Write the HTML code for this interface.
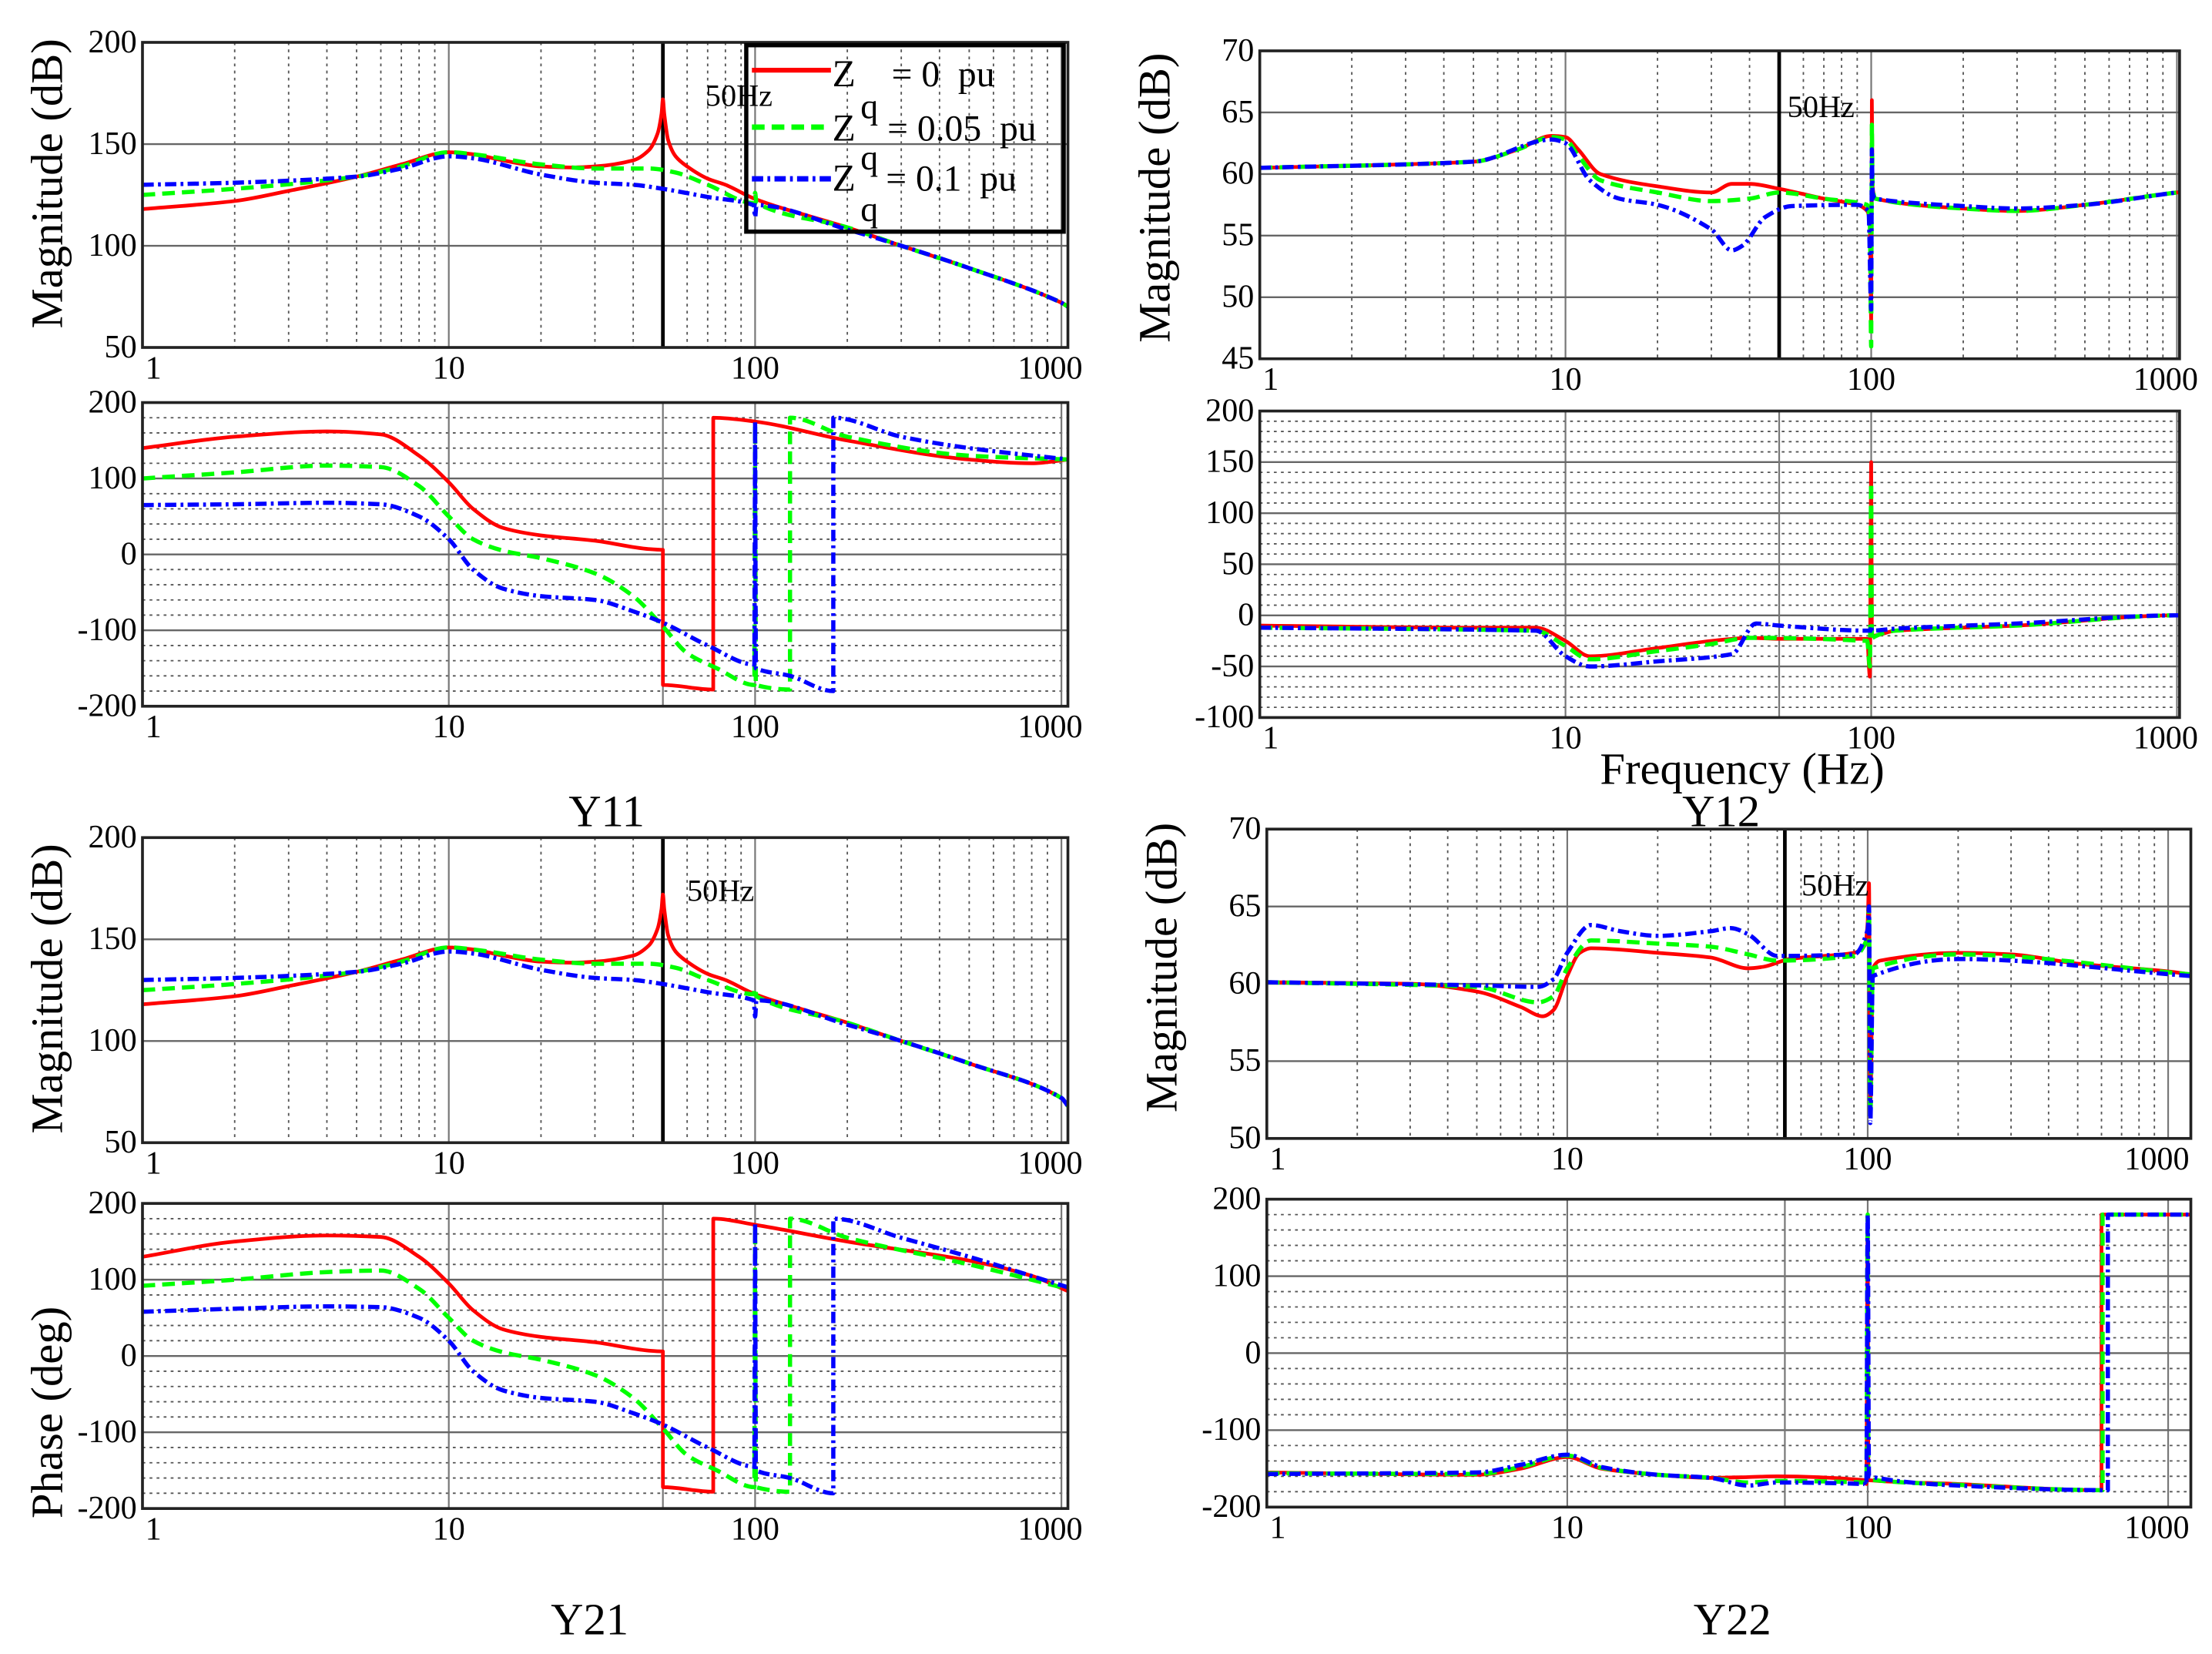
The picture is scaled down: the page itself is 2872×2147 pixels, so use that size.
<!DOCTYPE html>
<html><head><meta charset="utf-8"><style>
html,body{margin:0;padding:0;background:#fff;}
svg{display:block;}
text{font-family:"Liberation Serif",serif;fill:#000;}
</style></head><body>
<svg id="fig" width="2872" height="2147" viewBox="0 0 1568 1171" preserveAspectRatio="none" xmlns="http://www.w3.org/2000/svg">
<g id="grids"></g><g id="curves"></g><g id="labels"></g>
</svg>
<script>
// ---------- data (frequency in Hz, magnitude in dB, phase in deg) ----------
const y11MagRedF=[1,2,3,5,7,10,12,15,20,25,30,40,45,48,49.5,50,50.5,52,55,60,70,80,100,200,300,500,1000,1050];
const y11MagRedV=[118,122,127,134,140,146,145,142,139,138.5,139,142,147,155,165,172,165,152,144,139,133,130,123,109,100,89,72,70];
const y11MagGreenF=[1,2,5,7,10,12,20,30,45,55,70,99,100,101,200,300,500,1000,1050];
const y11MagGreenV=[125,128,134,139,146,145,140,138,138,136,130,121,126,121,109,100,89,72,70];
const y11MagBlueF=[1,2,5,7,10,12,20,30,40,50,70,99,100,101,200,300,500,1000,1050];
const y11MagBlueV=[130,131,134,138,144,143,135,131,130,128,124,120,114,120,108,100,89,72,70];

const y11PhRedF=[1,2,4,6,8,10,12,15,20,30,45,50,50.01,73,73.01,100,200,500,800,1050];
const y11PhRedV=[140,155,162,158,130,95,60,35,25,18,7,6,-172,-178,180,175,150,125,120,125];
const y11PhGreenF=[1,2,4,6,8,10,12,15,20,30,40,50,60,75,99.5,100,100.5,130,130.01,200,500,1050];
const y11PhGreenV=[100,108,117,115,90,50,20,5,-5,-25,-55,-95,-130,-150,-172,170,-172,-178,180,155,130,125];
const y11PhBlueF=[1,2,4,6,8,10,12,15,20,30,40,50,70,99.5,100,100.5,130,180,180.01,300,500,1050];
const y11PhBlueV=[65,66,68,66,50,20,-20,-45,-55,-60,-75,-90,-120,-145,175,-150,-160,-180,180,155,140,125];

const y12MagRedF=[1,5,7,9,10,11,13,20,30,35,40,50,70,90,97,99,100,100.5,101,103,200,300,500,1000,1200];
const y12MagRedV=[60.5,61,62,63.1,63,62,60,59,58.5,59.2,59.2,58.8,58,57.5,57,56,48,66,59,58,57.2,57,57.5,58.5,58.7];
const y12MagGreenF=[1,5,7,9,10,11,13,20,30,40,50,70,97,99,100,100.5,101,103,200,300,500,1000,1200];
const y12MagGreenV=[60.5,61,62,63,62.8,61.5,59.5,58.5,57.8,58,58.5,58,57.5,56,46,64,59,58,57.2,57,57.5,58.5,58.7];
const y12MagBlueF=[1,5,9,10,12,15,20,30,35,38,45,55,90,98,100,100.5,101,103,200,300,500,1000,1200];
const y12MagBlueV=[60.5,61,62.8,62.5,59.5,58,57.5,55.5,53.8,54.2,56.5,57.4,57.5,57,49,62,58.5,58,57.4,57.2,57.5,58.5,58.7];

const y12PhRedF=[1,5,8,10,12,20,30,40,50,97,99,100,100.5,101,120,300,1000,1200];
const y12PhRedV=[-10,-12,-12,-25,-40,-32,-25,-22,-23,-23,-60,150,-20,-20,-15,-10,0,0];
const y12PhGreenF=[1,8,10,12,20,30,40,97,99,100,100.5,101,120,300,1000,1200];
const y12PhGreenV=[-12,-15,-30,-43,-35,-28,-22,-25,-50,130,-25,-22,-15,-10,0,0];
const y12PhBlueF=[1,8,10,12,20,35,42,50,98,99.5,100,100.5,120,300,1000,1200];
const y12PhBlueV=[-12,-15,-40,-50,-45,-38,-8,-10,-15,-15,-10,-15,-13,-8,0,0];

const y21MagRedF=y11MagRedF.slice();
const y21MagRedV=[118,122,127,134,140,146,145,142,139,138.5,139,142,147,155,165,172,165,152,144,139,133,130,123,109,100,89,72,68];
const y21MagGreenF=[1,2,5,7,10,12,20,30,45,55,70,99,100,101,200,300,500,1000,1050];
const y21MagGreenV=[125,128,134,139,146,145,140,138,138,136,130,123,126,122,109,100,89,72,68];
const y21MagBlueF=[1,2,5,7,10,12,20,30,40,50,70,99,100,101,200,300,500,1000,1050];
const y21MagBlueV=[130,131,134,138,144,143,135,131,130,128,124,120,112,120,108,100,89,72,68];

const y21PhRedF=[1,2,4,6,8,10,12,15,20,30,45,50,50.01,73,73.01,100,200,500,800,1050];
const y21PhRedV=[130,150,158,156,130,95,60,35,25,18,7,6,-172,-178,180,172,150,125,105,85];
const y21PhGreenF=[1,2,4,6,8,10,12,15,20,30,40,50,60,75,99.5,100,100.5,130,130.01,200,500,1050];
const y21PhGreenV=[92,100,110,112,88,50,20,5,-5,-25,-55,-95,-130,-150,-172,170,-172,-178,180,155,120,88];
const y21PhBlueF=[1,2,4,6,8,10,12,15,20,30,40,50,70,99.5,100,100.5,130,180,180.01,300,500,1050];
const y21PhBlueV=[58,62,65,64,50,20,-20,-45,-55,-60,-75,-90,-120,-145,175,-150,-160,-180,180,155,130,90];

const y22MagRedF=[1,3,5,7,8.3,9,10,11,12,20,30,40,45,55,90,98,100,101,102,104,110,200,300,500,1000,1200];
const y22MagRedV=[60.1,60,59.5,58.5,57.9,58.3,60.5,62,62.3,62,61.7,61,61.1,61.6,62,62.5,64,66.5,52,61,61.5,62,61.9,61.3,60.8,60.6];
const y22MagGreenF=[1,5,8,9,10,12,20,30,40,50,90,100,101,102,104,200,1200];
const y22MagGreenV=[60.1,59.8,58.8,59.2,61,62.8,62.6,62.4,61.9,61.5,61.8,63,65,51.5,61,61.9,60.6];
const y22MagBlueF=[1,5,8,9,10,12,15,20,30,35,40,50,90,100,101,102,104,200,1200];
const y22MagBlueV=[60.1,59.9,59.8,60.3,62,63.8,63.4,63.1,63.4,63.6,63.2,61.8,61.9,63.5,65,51,60.5,61.6,60.5];

const y22PhRedF=[1,5,7,10,13,20,30,40,50,98,99,100,100.5,200,600,600.01,1200];
const y22PhRedV=[-155,-158,-150,-135,-150,-158,-162,-161,-160,-165,-170,180,-165,-170,-178,180,180];
const y22PhGreenF=[1,5,7,10,13,20,30,40,50,98,99,100,100.5,200,605,605.01,1200];
const y22PhGreenV=[-156,-157,-148,-133,-149,-158,-162,-168,-166,-168,-171,180,-164,-171,-178,180,180];
const y22PhBlueF=[1,5,7,10,13,20,30,40,50,98,99,100,101,200,630,630.01,1200];
const y22PhBlueV=[-157,-155,-145,-132,-148,-158,-162,-172,-168,-170,-172,180,-160,-172,-178,180,180];

// ---------- panels ----------
const NS="http://www.w3.org/2000/svg";
const G=document.getElementById('grids'),C=document.getElementById('curves'),L=document.getElementById('labels');
function mk(tag,attrs,parent){const e=document.createElementNS(NS,tag);for(const k in attrs)e.setAttribute(k,attrs[k]);parent.appendChild(e);return e;}
function txt(s,x,y,size,anchor,parent){const t=mk('text',{x:x,y:y,'font-size':size,'text-anchor':anchor||'start'},parent);t.textContent=s;return t;}

// monotone cubic path (Fritsch-Carlson) in screen coords
function smoothPath(X,Y){
  const n=X.length;if(n<2)return '';
  const d=[],m=[];
  for(let i=0;i<n-1;i++){const dx=X[i+1]-X[i];d.push(dx>1e-6?(Y[i+1]-Y[i])/dx:(Y[i+1]-Y[i])*1e6);}
  m[0]=d[0];m[n-1]=d[n-2];
  for(let i=1;i<n-1;i++){m[i]=(d[i-1]*d[i]<=0)?0:2/(1/d[i-1]+1/d[i]);}
  for(let i=0;i<n-1;i++){if(Math.abs(d[i])>1e3){m[i]=0;m[i+1]=0;}}
  let s='M'+X[0].toFixed(2)+','+Y[0].toFixed(2);
  for(let i=0;i<n-1;i++){const h=X[i+1]-X[i];
    if(Math.abs(d[i])>1e3||h<0.5){s+=' L'+X[i+1].toFixed(2)+','+Y[i+1].toFixed(2);continue;}
    s+=' C'+(X[i]+h/3).toFixed(2)+','+(Y[i]+m[i]*h/3).toFixed(2)+' '+(X[i+1]-h/3).toFixed(2)+','+(Y[i+1]-m[i+1]*h/3).toFixed(2)+' '+X[i+1].toFixed(2)+','+Y[i+1].toFixed(2);}
  return s;
}

const panels=[
 {id:'y11-mag',x0:101,x1:757,y0:30,y1:246,fmax:1050,ymin:50,ymax:200,major:[50,100,150,200],minor:null,kind:'mag',line50:'black',
  s:[[y11MagRedF,y11MagRedV],[y11MagGreenF,y11MagGreenV],[y11MagBlueF,y11MagBlueV]]},
 {id:'y11-phase',x0:101,x1:757,y0:285,y1:500,fmax:1050,ymin:-200,ymax:200,major:[-200,-100,0,100,200],minor:20,kind:'ph',line50:'gray',
  s:[[y11PhRedF,y11PhRedV],[y11PhGreenF,y11PhGreenV],[y11PhBlueF,y11PhBlueV]]},
 {id:'y12-mag',x0:893,x1:1545,y0:36,y1:254,fmax:1020,ymin:45,ymax:70,major:[45,50,55,60,65,70],minor:null,kind:'mag',line50:'black',
  s:[[y12MagRedF,y12MagRedV],[y12MagGreenF,y12MagGreenV],[y12MagBlueF,y12MagBlueV]]},
 {id:'y12-phase',x0:893,x1:1545,y0:291,y1:508,fmax:1020,ymin:-100,ymax:200,major:[-100,-50,0,50,100,150,200],minor:10,kind:'ph',line50:'gray',
  s:[[y12PhRedF,y12PhRedV],[y12PhGreenF,y12PhGreenV],[y12PhBlueF,y12PhBlueV]]},
 {id:'y21-mag',x0:101,x1:757,y0:593,y1:809,fmax:1050,ymin:50,ymax:200,major:[50,100,150,200],minor:null,kind:'mag',line50:'black',
  s:[[y21MagRedF,y21MagRedV],[y21MagGreenF,y21MagGreenV],[y21MagBlueF,y21MagBlueV]]},
 {id:'y21-phase',x0:101,x1:757,y0:852,y1:1068,fmax:1050,ymin:-200,ymax:200,major:[-200,-100,0,100,200],minor:20,kind:'ph',line50:'gray',
  s:[[y21PhRedF,y21PhRedV],[y21PhGreenF,y21PhGreenV],[y21PhBlueF,y21PhBlueV]]},
 {id:'y22-mag',x0:898,x1:1553,y0:587,y1:806,fmax:1190,ymin:50,ymax:70,major:[50,55,60,65,70],minor:null,kind:'mag',line50:'black',f50:53,
  s:[[y22MagRedF,y22MagRedV],[y22MagGreenF,y22MagGreenV],[y22MagBlueF,y22MagBlueV]]},
 {id:'y22-phase',x0:898,x1:1553,y0:849,y1:1067,fmax:1190,ymin:-200,ymax:200,major:[-200,-100,0,100,200],minor:20,kind:'ph',line50:'gray',f50:53,
  s:[[y22PhRedF,y22PhRedV],[y22PhGreenF,y22PhGreenV],[y22PhBlueF,y22PhBlueV]]}
];
const styles=[
 {name:'red',stroke:'#ff0000',w:2.6,dash:''},
 {name:'green',stroke:'#00ff00',w:3,dash:'9,5'},
 {name:'blue',stroke:'#0000ff',w:3,dash:'8,3,2,3'}
];

panels.forEach(p=>{
  const xs=f=>p.x0+(Math.log10(f)/Math.log10(p.fmax))*(p.x1-p.x0);
  const ys=v=>p.y1-(v-p.ymin)/(p.ymax-p.ymin)*(p.y1-p.y0);
  const g=mk('g',{},G);
  
  
  if(p.minor){for(let v=p.ymin+p.minor;v<p.ymax;v+=p.minor){if(p.major.indexOf(v)>=0)continue;
    mk('line',{x1:p.x0,x2:p.x1,y1:ys(v),y2:ys(v),stroke:'#555','stroke-width':1,'stroke-dasharray':'2,3'},g);}}
  for(let d=1;d<=1000;d*=10){for(let k=1;k<10;k++){const f=d*k;if(f>p.fmax)break;
    if(k===1){if(f>1)mk('line',{x1:xs(f),x2:xs(f),y1:p.y0,y2:p.y1,stroke:'#777','stroke-width':1.2},g);}
    else if(p.kind==='mag')mk('line',{x1:xs(f),x2:xs(f),y1:p.y0,y2:p.y1,stroke:'#555','stroke-width':1,'stroke-dasharray':'2,3'},g);}}
  p.major.forEach(v=>{mk('line',{x1:p.x0,x2:p.x1,y1:ys(v),y2:ys(v),stroke:'#666','stroke-width':1.3},g);
    const t=txt(String(v),p.x0-4,ys(v)+7,23,'end',L);
    
    });
  [1,10,100,1000].forEach(f=>{const t=txt(String(f),f===1?xs(f)+2:(f===1000?xs(f)-8:xs(f)),p.y1+22,23,f===1?'start':'middle',L);
    
    });
  const f50=p.f50||50;
  const ln=mk('line',{x1:xs(f50),x2:xs(f50),y1:p.y0,y2:p.y1,stroke:p.line50==='black'?'#000':'#777','stroke-width':p.line50==='black'?2.6:1.2},g);
  
  
  const cg=mk('g',{'clip-path':'url(#clip-'+p.id+')'},C);
  const cp=mk('clipPath',{id:'clip-'+p.id},C);mk('rect',{x:p.x0,y:p.y0-1,width:p.x1-p.x0,height:p.y1-p.y0+2},cp);
  p.s.forEach((sr,i)=>{const st=styles[i];
    const X=sr[0].map(f=>xs(f)),Y=sr[1].map(v=>ys(v));
    const pl=mk('path',{d:smoothPath(X,Y),fill:'none',stroke:st.stroke,'stroke-width':st.w,'stroke-dasharray':st.dash,'stroke-linejoin':'round'},cg);
    
    });
  const fr=mk('rect',{x:p.x0,y:p.y0,width:p.x1-p.x0,height:p.y1-p.y0,fill:'none',stroke:'#222','stroke-width':2},L);
  
  
});

[[500,75],[1267,83],[487,638],[1277,634]].forEach(a=>{const t=txt('50Hz',a[0],a[1],22,'start',L);
  
  });

function vlabel(s,x,y,name){const t=txt(s,x,y,32,'middle',L);t.setAttribute('transform','rotate(-90 '+x+' '+y+')');
  
  }
vlabel('Magnitude (dB)',44,130,'y11-ylabel');
vlabel('Magnitude (dB)',829,140,'y12-ylabel');
vlabel('Magnitude (dB)',44,700,'y21-ylabel');
vlabel('Phase (deg)',44,1000,'y21-phase-ylabel');
vlabel('Magnitude (dB)',834,685,'y22-ylabel');
[['Frequency (Hz)',1235,555,'x-axis-title'],['Y11',430,585,'title-y11'],['Y12',1220,585,'title-y12'],['Y21',418,1157,'title-y21'],['Y22',1228,1157,'title-y22']].forEach(a=>{
  const t=txt(a[0],a[1],a[2],32,'middle',L);
  
  });

const lg=mk('g',{},L);


mk('rect',{x:529,y:32,width:225,height:132,fill:'none',stroke:'#000','stroke-width':3},lg);
const legRows=[['= 0  pu',49.7,61,83.7,632],['= 0.05  pu',90,99.5,120,629],['= 0.1  pu',126.6,135,156.6,628]];
legRows.forEach((r,i)=>{const st=styles[i];
  const l=mk('line',{x1:533,x2:589,y1:r[1],y2:r[1],stroke:st.stroke,'stroke-width':st.w+0.8,'stroke-dasharray':st.dash},lg);
  
  
  txt('Z',590,r[2],27,'start',lg);txt('q',610,r[3],25,'start',lg);
  const t=txt(r[0],r[4],r[2],26,'start',lg);t.setAttribute('xml:space','preserve');t.style.whiteSpace='pre';});
</script>
</body></html>
